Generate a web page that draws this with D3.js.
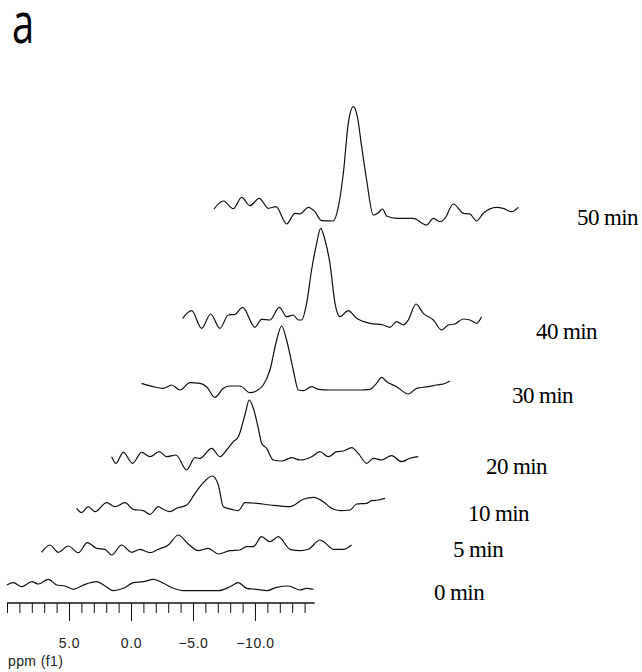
<!DOCTYPE html>
<html>
<head>
<meta charset="utf-8">
<script src="https://cdn.jsdelivr.net/npm/d3@7"></script>
<style>
  body { margin: 0; background: #fff; }
  svg { display: block; }
</style>
</head>
<body>
<script>
const width = 642;
const height = 672;

// time points of the stacked spectra (bottom to top)
const times = [0, 5, 10, 20, 30, 40, 50];
const timeLabels = ["0 min", "5 min", "10 min", "20 min", "30 min", "40 min", "50 min"];

// spectra: [ppm, intensity (a.u.)]
const spec0 = [[10.02,2],[9.48,4.3],[8.81,0.3],[8.01,5.3],[7.47,3],[6.66,7.7],[5.99,2],[5.32,1],[4.65,-2.3],[3.84,2],[2.76,5.3],[2.09,1],[1.42,-3.7],[0.61,-1.3],[-0.19,4.3],[-1.0,5.3],[-1.81,7.7],[-2.61,3.7],[-3.42,-1.3],[-4.22,-3.7],[-5.57,-3.7],[-7.05,-3.7],[-7.99,0.3],[-8.66,4.3],[-9.33,-1.3],[-10.14,-2.3],[-10.95,-3.7],[-11.75,-0.3],[-12.69,1],[-13.63,-3],[-14.17,-1.3],[-14.71,-2.3]];
const spec5 = [[10.03,-2.3],[9.36,5],[8.69,-2.3],[7.88,4],[7.07,-2.7],[6.35,7.3],[5.59,1.7],[4.92,0.7],[4.38,-5],[3.58,5],[2.77,-2.3],[2.1,0.7],[1.29,-2.7],[0.62,0.7],[-0.19,5],[-0.99,15],[-1.8,6],[-2.6,-0.7],[-3.41,1.7],[-4.22,-4],[-5.16,-0.7],[-5.96,0],[-6.5,3.3],[-7.04,3.3],[-7.71,13.3],[-8.38,8.3],[-9.06,13.3],[-10.0,0.7],[-10.8,-0.7],[-11.48,0.7],[-12.42,10],[-12.82,7.3],[-13.49,0.7],[-14.3,0.7],[-14.97,5]];
const spec10 = [[10.03,-1.3],[9.62,-5.7],[9.09,0.3],[8.55,-4.7],[7.61,4.3],[6.93,0.3],[6.13,4.3],[5.46,-2.3],[4.65,-3.7],[4.11,-7.3],[3.44,0.3],[3.04,-2.3],[2.5,-4.7],[1.96,-1.3],[1.15,2],[0.48,13.7],[-0.19,24.3],[-0.91,31],[-1.4,22],[-1.8,0.3],[-2.47,-2.3],[-3.01,-3.7],[-3.55,4.3],[-4.49,3.7],[-5.57,2],[-7.18,0.3],[-8.25,7.7],[-9.06,9.7],[-9.87,5.3],[-10.4,-0.3],[-11.21,-3.7],[-12.02,-3],[-12.55,3],[-13.36,3.7],[-13.76,6.3],[-14.3,7],[-14.84,8.7]];
const spec20 = [[10.03,1.3],[9.68,-5.3],[9.09,5.7],[8.34,-5.3],[7.61,5.7],[6.94,1.3],[6.19,6.3],[5.59,1.3],[4.84,3],[3.98,-12],[3.31,0.3],[2.91,-0.3],[1.96,9.7],[1.29,1.3],[0.75,8],[0.22,16.3],[-0.19,21.3],[-0.72,43],[-1.07,58],[-1.4,49.7],[-1.8,29.7],[-2.07,14.7],[-2.47,9.7],[-3.01,-2],[-3.68,-3],[-4.49,0.3],[-5.16,-2],[-6.1,1.3],[-6.77,6.3],[-7.44,1.3],[-8.12,6.3],[-8.65,7],[-9.33,10.3],[-9.86,4.7],[-10.54,-5.3],[-11.07,-0.3],[-11.75,-2],[-12.55,2.3],[-13.36,-3.7],[-14.03,-0.3],[-14.7,1.3]];
const spec30 = [[10.03,4.7],[9.09,1.3],[8.28,-0.3],[7.61,3],[6.94,-2],[6.13,5.3],[5.32,4.7],[4.79,1.3],[4.12,-9.3],[3.44,-0.3],[2.91,2],[2.1,2],[1.29,-4.7],[0.75,-2.7],[0.22,3],[-0.32,18],[-0.86,48],[-1.26,62],[-1.66,48],[-2.2,18],[-2.61,-2],[-3.01,-2.7],[-3.68,1.3],[-4.22,-1.3],[-5.16,-2],[-6.5,-2],[-7.58,-2],[-8.38,-1.3],[-8.92,4.7],[-9.33,10.7],[-9.73,6.3],[-10.54,1.3],[-11.48,-6],[-12.15,-0.3],[-13.09,1.3],[-13.76,3],[-14.3,4],[-14.84,7]];
const spec40 = [[10.03,1.7],[9.3,9.3],[8.5,-8.3],[7.77,6],[7.02,-8.3],[6.35,5],[5.81,5.7],[5.19,12.7],[4.2,-7.3],[3.66,0.7],[2.99,0],[2.23,12.7],[1.64,3.3],[1.1,5],[0.7,0],[0.43,0],[0.03,16.7],[-0.37,50],[-0.78,76.7],[-1.1,91.7],[-1.45,80],[-1.85,56.7],[-2.26,16.7],[-2.66,3.3],[-3.33,9.3],[-4.0,1.7],[-5.08,-3.3],[-6.15,-5],[-6.69,-7.3],[-7.23,-1.7],[-7.77,-5],[-8.17,0],[-8.79,16],[-9.38,6.7],[-10.19,0],[-10.86,-10],[-11.4,-5],[-11.93,-4],[-12.61,1],[-13.14,0],[-13.68,-3.3],[-14.08,3.3]];
const spec50 = [[10.0,6],[9.25,14],[8.44,6.3],[7.77,17.7],[7.1,9.3],[6.35,16.7],[5.62,6.7],[5.0,8.3],[4.14,-9],[3.47,1.7],[3.07,1],[2.39,7.7],[1.86,3.3],[1.32,-5.7],[0.38,-6],[-0.03,8.3],[-0.43,41.7],[-0.83,91.7],[-1.24,108.3],[-1.56,98.3],[-1.91,68.3],[-2.31,35],[-2.85,0],[-3.25,2.3],[-3.6,6],[-3.92,-1],[-4.73,-3.3],[-6.07,-3.3],[-7.15,-10],[-7.69,-3.3],[-8.22,-6.7],[-8.63,-3.3],[-9.3,11],[-10.11,1.7],[-10.64,1],[-11.18,-6],[-11.72,1.7],[-12.79,7.7],[-13.33,6.7],[-14.0,3.3],[-14.54,7.7]];

const spectra = [spec0, spec5, spec10, spec20, spec30, spec40, spec50];

// axis ticks (ppm)
const minorTicks = d3.range(10, -14.5, -1);
const majorTicks = [5, 0, -5, -10];
const ppmDomain = [10, -14.8];

// stacking layout: each spectrum is shifted right and up
const traceShift = [[0, 587], [35, 550], [70, 507], [105, 458], [135, 388], [176, 320], [207, 215]];
const labelPos = [[434, 600], [453, 557], [468, 521], [486, 474], [512, 403], [536, 339], [577, 225]];

const svg = d3.select("body").append("svg")
    .attr("width", width)
    .attr("height", height);

const x = d3.scaleLinear().domain(ppmDomain).range([7, 314.5]);
const y = d3.scaleLinear().domain([0, 100]).range([0, -100]);

const line = d3.line()
    .x(d => x(d[0]))
    .y(d => y(d[1]))
    .curve(d3.curveMonotoneX);

// panel letter
svg.append("text")
    .attr("transform", "translate(12,43) scale(1,1.4)")
    .attr("font-family", "Open Sans, sans-serif")
    .attr("font-size", 40)
    .attr("fill", "#000")
    .text("a");

// stacked traces
const traces = svg.append("g").attr("class", "traces");
spectra.forEach((s, i) => {
    traces.append("path")
        .datum(s)
        .attr("transform", `translate(${traceShift[i][0]},${traceShift[i][1]})`)
        .attr("fill", "none")
        .attr("stroke", "#111")
        .attr("stroke-width", 1.2)
        .attr("stroke-linejoin", "round")
        .attr("d", line);
});

// time labels
svg.append("g").attr("class", "labels")
    .selectAll("text")
    .data(timeLabels)
    .enter().append("text")
    .attr("x", (d, i) => labelPos[i][0])
    .attr("y", (d, i) => labelPos[i][1])
    .attr("font-family", "Liberation Serif, Times New Roman, serif")
    .attr("font-size", 23)
    .attr("letter-spacing", -0.6)
    .attr("fill", "#000")
    .text(d => d);

// ppm axis
const axisY = 603;
const minorAxis = svg.append("g")
    .attr("transform", `translate(0,${axisY})`)
    .call(d3.axisBottom(x).tickValues(minorTicks).tickSize(10).tickFormat(""));

const majorAxis = svg.append("g")
    .attr("transform", `translate(0,${axisY})`)
    .call(d3.axisBottom(x).tickValues(majorTicks).tickSize(18).tickSizeOuter(0).tickFormat(d3.format(".1f")));

[minorAxis, majorAxis].forEach(g => {
    g.select(".domain").attr("stroke", "#111").attr("d", `M${x.range()[0]},0H${x.range()[1]}`);
    g.selectAll(".tick line").attr("stroke", "#111");
});

majorAxis.selectAll(".tick text")
    .attr("y", 45)
    .attr("dy", null)
    .attr("font-family", "Liberation Sans, Arial, sans-serif")
    .attr("font-size", 14)
    .attr("letter-spacing", 0.6)
    .attr("fill", "#222");

svg.append("text")
    .attr("x", 8)
    .attr("y", 666)
    .attr("font-family", "Liberation Sans, Arial, sans-serif")
    .attr("font-size", 14)
    .attr("letter-spacing", 0.4)
    .attr("fill", "#222")
    .text("ppm (f1)");
</script>
</body>
</html>
